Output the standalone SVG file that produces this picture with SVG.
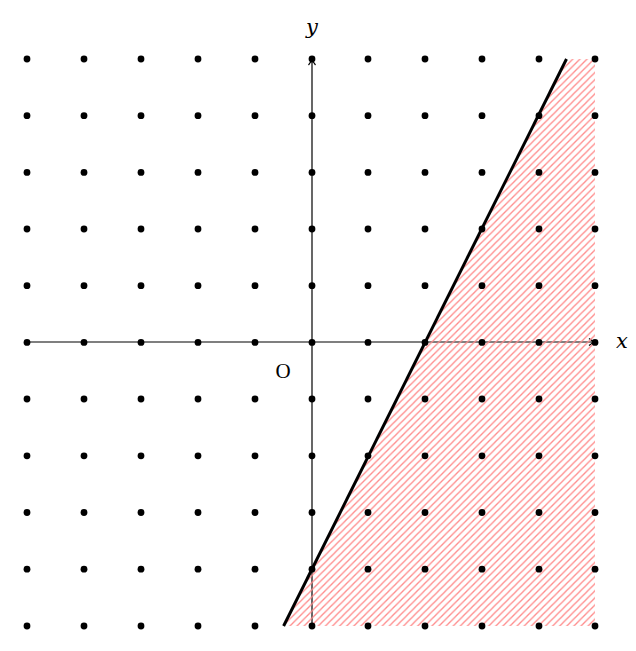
<svg xmlns="http://www.w3.org/2000/svg" width="636" height="651" viewBox="0 0 636 651">
<style>
.dot{fill:#000}
.axis{stroke:#000;stroke-width:1.2;fill:none}
.lbl{font-family:"DejaVu Serif","Liberation Serif",serif;font-size:21px;font-style:italic;fill:#000}
.o{font-family:"Liberation Serif",serif;font-size:21px;fill:#000}
</style>
<defs>
<pattern id="hatch" patternUnits="userSpaceOnUse" width="7.1" height="7.1">
<path d="M-1,1 l2,-2 M0,7.1 l7.1,-7.1 M6.1,8.1 l2,-2" stroke="#ff8a8a" stroke-width="1.3"/>
</pattern>
<marker id="arr" markerWidth="10" markerHeight="10" refX="8" refY="5" orient="auto" markerUnits="userSpaceOnUse">
<path d="M2,1.5 Q5,4 8,5 Q5,6 2,8.5" fill="none" stroke="#000" stroke-width="1.2"/>
</marker>
</defs>
<g id="connectors">
<line id="x-axis" class="axis" x1="27" y1="342" x2="595" y2="342" marker-end="url(#arr)"/>
<line id="y-axis" class="axis" x1="312" y1="626" x2="312" y2="59" marker-end="url(#arr)"/>
</g>
<g id="region">
<polygon points="283,626 566,59 595,59 595,626" fill="url(#hatch)"/>
</g>
<g id="dots" class="dot">
<g id="row1"><circle cx="27" cy="59" r="3.4"/><circle cx="84" cy="59" r="3.4"/><circle cx="141" cy="59" r="3.4"/><circle cx="198" cy="59" r="3.4"/><circle cx="255" cy="59" r="3.4"/><circle cx="312" cy="59" r="3.4"/><circle cx="368" cy="59" r="3.4"/><circle cx="425" cy="59" r="3.4"/><circle cx="482" cy="59" r="3.4"/><circle cx="539" cy="59" r="3.4"/><circle cx="595" cy="59" r="3.4"/></g>
<g id="row2"><circle cx="27" cy="115.7" r="3.4"/><circle cx="84" cy="115.7" r="3.4"/><circle cx="141" cy="115.7" r="3.4"/><circle cx="198" cy="115.7" r="3.4"/><circle cx="255" cy="115.7" r="3.4"/><circle cx="312" cy="115.7" r="3.4"/><circle cx="368" cy="115.7" r="3.4"/><circle cx="425" cy="115.7" r="3.4"/><circle cx="482" cy="115.7" r="3.4"/><circle cx="539" cy="115.7" r="3.4"/><circle cx="595" cy="115.7" r="3.4"/></g>
<g id="row3"><circle cx="27" cy="172.4" r="3.4"/><circle cx="84" cy="172.4" r="3.4"/><circle cx="141" cy="172.4" r="3.4"/><circle cx="198" cy="172.4" r="3.4"/><circle cx="255" cy="172.4" r="3.4"/><circle cx="312" cy="172.4" r="3.4"/><circle cx="368" cy="172.4" r="3.4"/><circle cx="425" cy="172.4" r="3.4"/><circle cx="482" cy="172.4" r="3.4"/><circle cx="539" cy="172.4" r="3.4"/><circle cx="595" cy="172.4" r="3.4"/></g>
<g id="row4"><circle cx="27" cy="229" r="3.4"/><circle cx="84" cy="229" r="3.4"/><circle cx="141" cy="229" r="3.4"/><circle cx="198" cy="229" r="3.4"/><circle cx="255" cy="229" r="3.4"/><circle cx="312" cy="229" r="3.4"/><circle cx="368" cy="229" r="3.4"/><circle cx="425" cy="229" r="3.4"/><circle cx="482" cy="229" r="3.4"/><circle cx="539" cy="229" r="3.4"/><circle cx="595" cy="229" r="3.4"/></g>
<g id="row5"><circle cx="27" cy="285.7" r="3.4"/><circle cx="84" cy="285.7" r="3.4"/><circle cx="141" cy="285.7" r="3.4"/><circle cx="198" cy="285.7" r="3.4"/><circle cx="255" cy="285.7" r="3.4"/><circle cx="312" cy="285.7" r="3.4"/><circle cx="368" cy="285.7" r="3.4"/><circle cx="425" cy="285.7" r="3.4"/><circle cx="482" cy="285.7" r="3.4"/><circle cx="539" cy="285.7" r="3.4"/><circle cx="595" cy="285.7" r="3.4"/></g>
<g id="row6"><circle cx="27" cy="342.4" r="3.4"/><circle cx="84" cy="342.4" r="3.4"/><circle cx="141" cy="342.4" r="3.4"/><circle cx="198" cy="342.4" r="3.4"/><circle cx="255" cy="342.4" r="3.4"/><circle cx="312" cy="342.4" r="3.4"/><circle cx="368" cy="342.4" r="3.4"/><circle cx="425" cy="342.4" r="3.4"/><circle cx="482" cy="342.4" r="3.4"/><circle cx="539" cy="342.4" r="3.4"/><circle cx="595" cy="342.4" r="3.4"/></g>
<g id="row7"><circle cx="27" cy="399" r="3.4"/><circle cx="84" cy="399" r="3.4"/><circle cx="141" cy="399" r="3.4"/><circle cx="198" cy="399" r="3.4"/><circle cx="255" cy="399" r="3.4"/><circle cx="312" cy="399" r="3.4"/><circle cx="368" cy="399" r="3.4"/><circle cx="425" cy="399" r="3.4"/><circle cx="482" cy="399" r="3.4"/><circle cx="539" cy="399" r="3.4"/><circle cx="595" cy="399" r="3.4"/></g>
<g id="row8"><circle cx="27" cy="455.8" r="3.4"/><circle cx="84" cy="455.8" r="3.4"/><circle cx="141" cy="455.8" r="3.4"/><circle cx="198" cy="455.8" r="3.4"/><circle cx="255" cy="455.8" r="3.4"/><circle cx="312" cy="455.8" r="3.4"/><circle cx="368" cy="455.8" r="3.4"/><circle cx="425" cy="455.8" r="3.4"/><circle cx="482" cy="455.8" r="3.4"/><circle cx="539" cy="455.8" r="3.4"/><circle cx="595" cy="455.8" r="3.4"/></g>
<g id="row9"><circle cx="27" cy="512.5" r="3.4"/><circle cx="84" cy="512.5" r="3.4"/><circle cx="141" cy="512.5" r="3.4"/><circle cx="198" cy="512.5" r="3.4"/><circle cx="255" cy="512.5" r="3.4"/><circle cx="312" cy="512.5" r="3.4"/><circle cx="368" cy="512.5" r="3.4"/><circle cx="425" cy="512.5" r="3.4"/><circle cx="482" cy="512.5" r="3.4"/><circle cx="539" cy="512.5" r="3.4"/><circle cx="595" cy="512.5" r="3.4"/></g>
<g id="row10"><circle cx="27" cy="569.2" r="3.4"/><circle cx="84" cy="569.2" r="3.4"/><circle cx="141" cy="569.2" r="3.4"/><circle cx="198" cy="569.2" r="3.4"/><circle cx="255" cy="569.2" r="3.4"/><circle cx="312" cy="569.2" r="3.4"/><circle cx="368" cy="569.2" r="3.4"/><circle cx="425" cy="569.2" r="3.4"/><circle cx="482" cy="569.2" r="3.4"/><circle cx="539" cy="569.2" r="3.4"/><circle cx="595" cy="569.2" r="3.4"/></g>
<g id="row11"><circle cx="27" cy="626" r="3.4"/><circle cx="84" cy="626" r="3.4"/><circle cx="141" cy="626" r="3.4"/><circle cx="198" cy="626" r="3.4"/><circle cx="255" cy="626" r="3.4"/><circle cx="312" cy="626" r="3.4"/><circle cx="368" cy="626" r="3.4"/><circle cx="425" cy="626" r="3.4"/><circle cx="482" cy="626" r="3.4"/><circle cx="539" cy="626" r="3.4"/><circle cx="595" cy="626" r="3.4"/></g>
</g>
<g id="boundary">
<line x1="283.6" y1="626" x2="566.5" y2="59" stroke="#000" stroke-width="3"/>
</g>
<g id="labels">
<text class="lbl" x="622" y="348" text-anchor="middle">x</text>
<text class="lbl" x="312" y="34" text-anchor="middle">y</text>
<text class="o" x="283" y="378" text-anchor="middle">O</text>
</g>
</svg>
